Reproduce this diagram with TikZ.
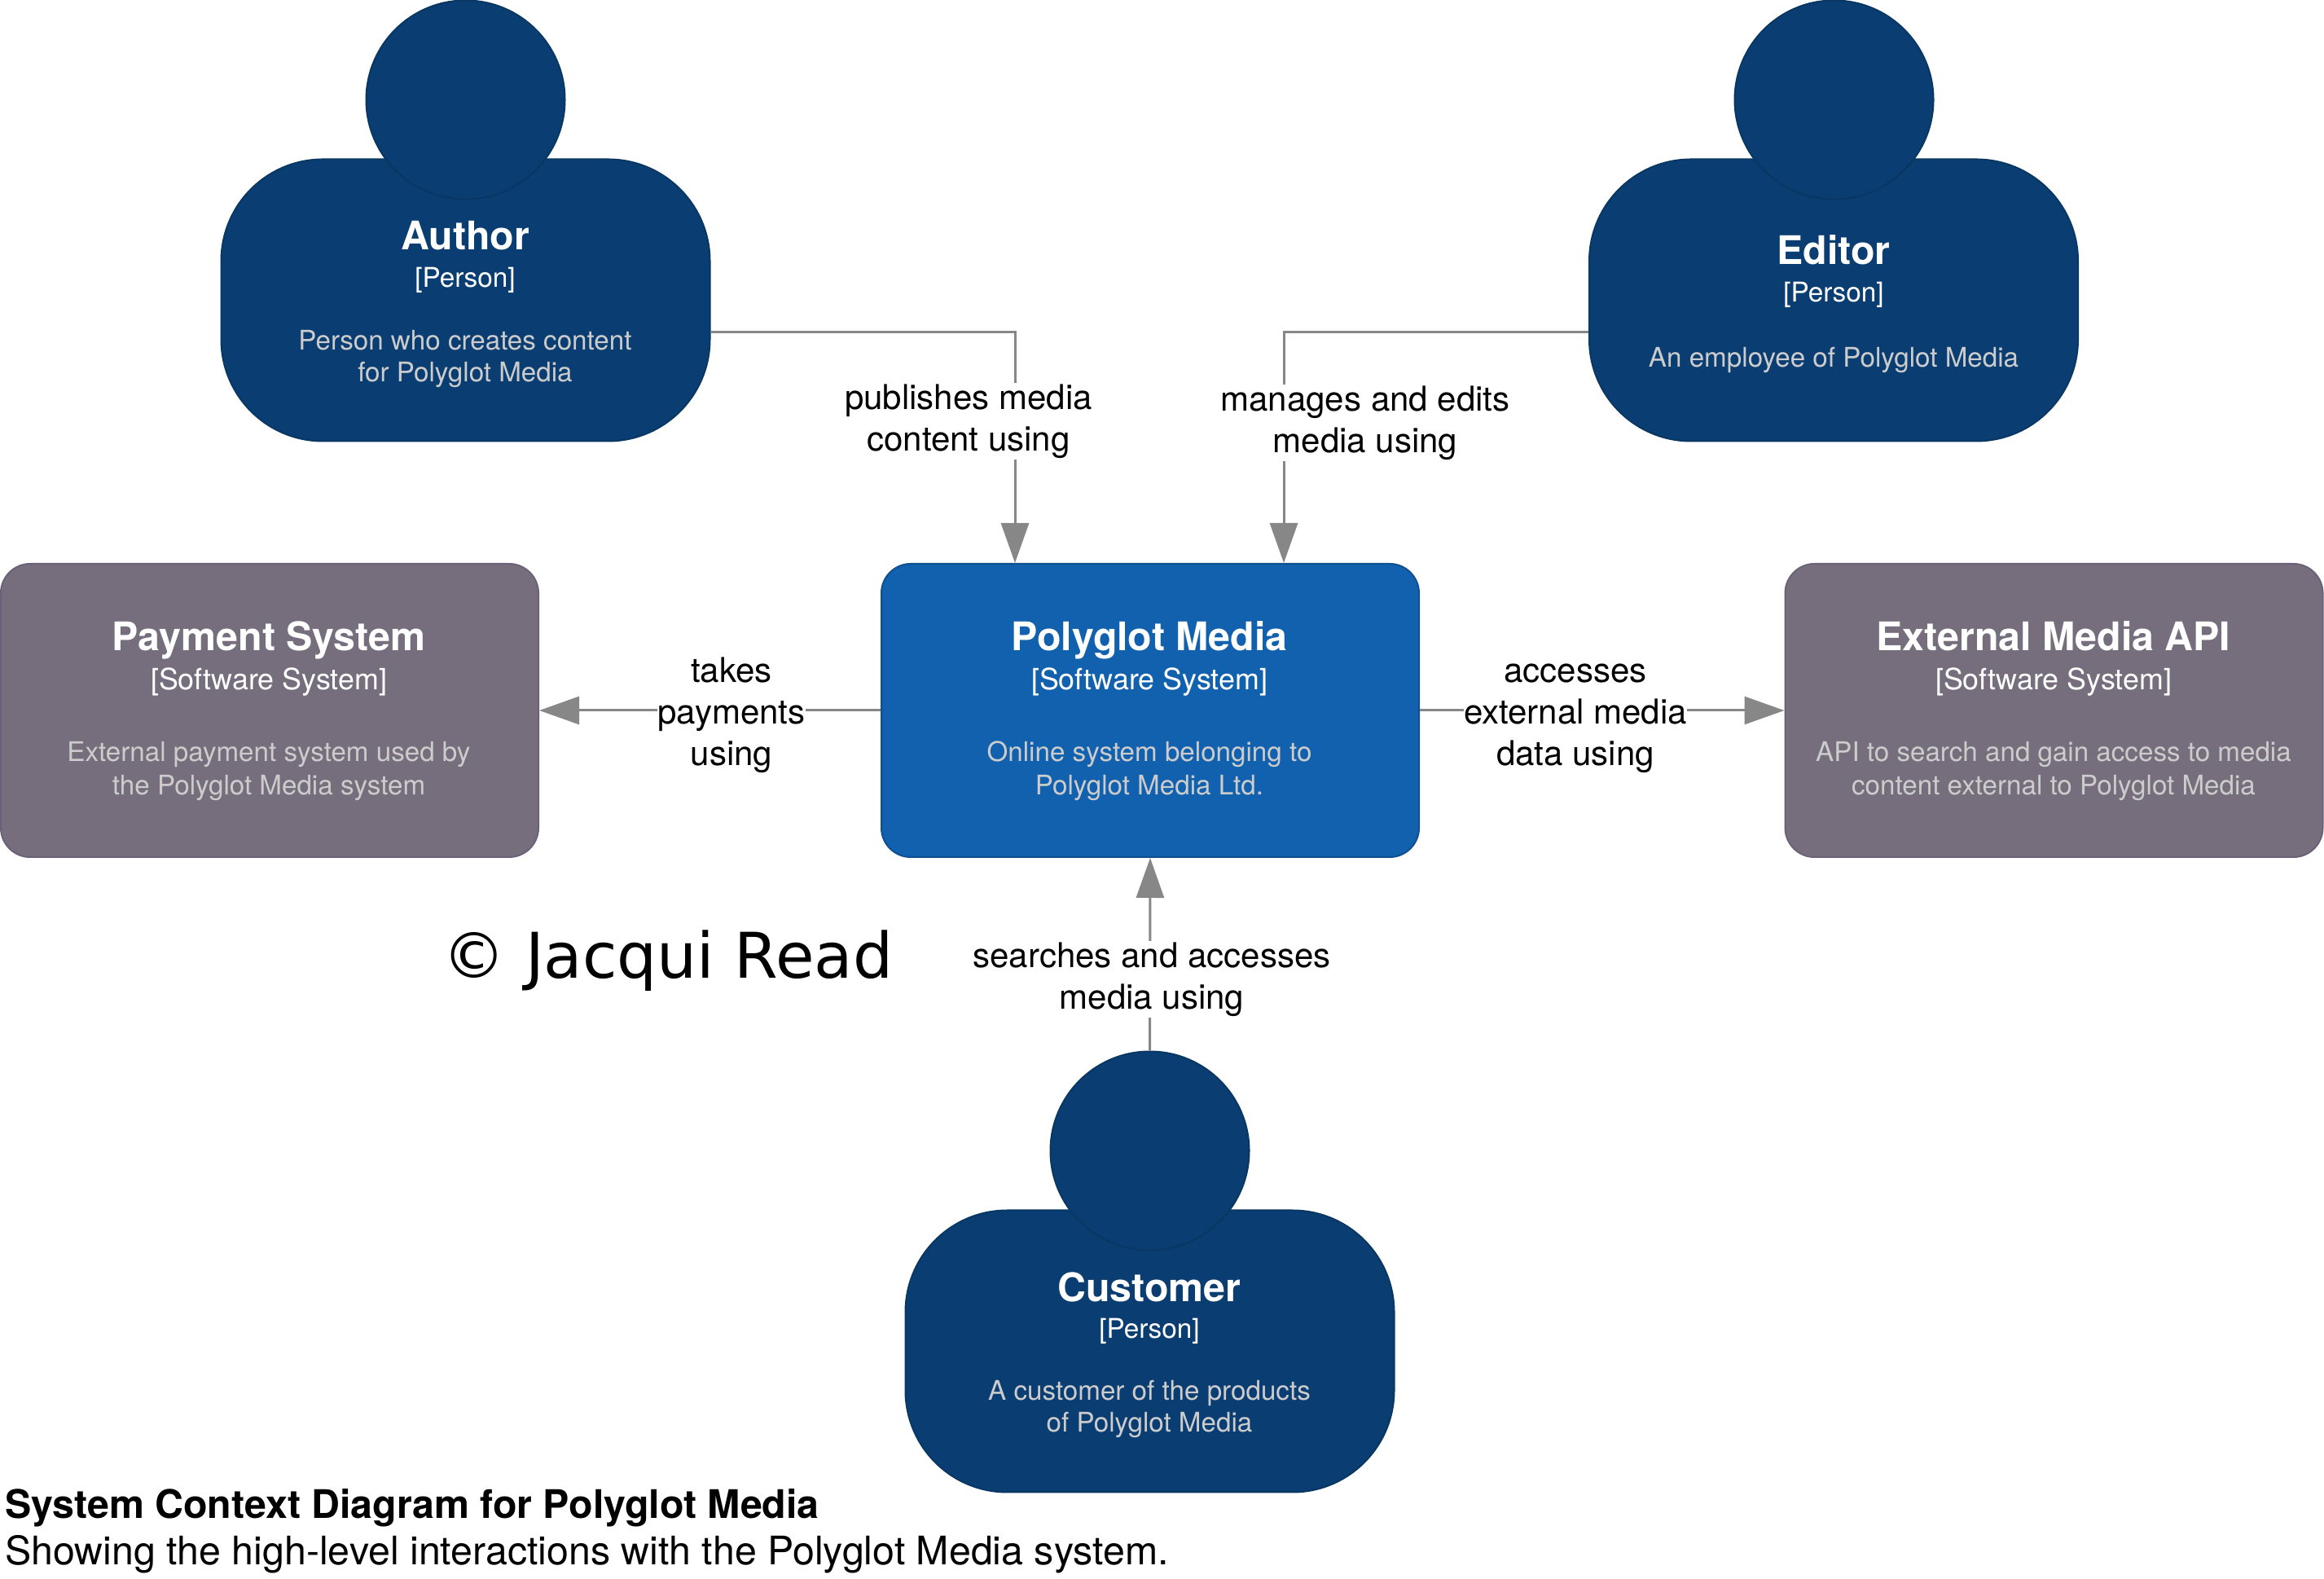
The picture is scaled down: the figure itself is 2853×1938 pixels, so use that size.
\documentclass[tikz,border=0pt]{standalone}
\usepackage{fontspec}
\setmainfont{TeX Gyre Heros}
\newfontfamily\copyfont{DejaVu Sans}
\usetikzlibrary{arrows.meta}

\definecolor{persondark}{HTML}{0A3E72}
\definecolor{personline}{HTML}{083763}
\definecolor{systemblue}{HTML}{1161AE}
\definecolor{systemline}{HTML}{0E5090}
\definecolor{extgrey}{HTML}{766E7D}
\definecolor{extline}{HTML}{6B6179}
\definecolor{linkgrey}{HTML}{878787}

\tikzset{
	personbody/.style={draw=personline,fill=persondark,line width=2bp,rounded corners=125bp,
		minimum width=600bp,minimum height=346bp,inner sep=0pt},
	personhead/.style={draw=personline,fill=persondark,line width=2bp,circle,
		minimum size=244bp,inner sep=0pt},
	mainbox/.style={draw=systemline,fill=systemblue,line width=2bp,rounded corners=36bp,
		minimum width=660bp,minimum height=360bp,inner sep=0pt},
	extbox/.style={mainbox,draw=extline,fill=extgrey},
	nametext/.style={anchor=base,inner sep=0pt,text=white,font=\fontsize{48.5}{52}\selectfont\bfseries},
	typetext/.style={anchor=base,inner sep=0pt,text=white,font=\fontsize{36}{40}\selectfont},
	persontype/.style={typetext,font=\fontsize{33.5}{40}\selectfont},
	desctext/.style={anchor=base,inner sep=0pt,text=black!20,align=center,font=\fontsize{33.3}{40}\selectfont},
	linktext/.style={fill=white,inner xsep=0pt,inner ysep=2bp,align=center,font=\fontsize{42.2}{51}\selectfont},
	link/.style={draw=linkgrey,line width=3bp,-{Triangle[length=49bp,width=34bp,fill=linkgrey]}},
}

\begin{document}
\begin{tikzpicture}

		\useasboundingbox (0bp,0bp) rectangle (2853bp,1938bp);

		% systems
		\node[mainbox] (polyglot) at (1412bp,1066bp) {};
		\node[extbox] (payment) at (331bp,1066bp) {};
		\node[extbox] (external) at (2521.5bp,1066bp) {};

		% people
		\node[personbody] (author) at (571.5bp,1569.5bp) {};
		\node[personhead] (authorhead) at (571.5bp,1815.5bp) {};
		\node[personbody] (editor) at (2251bp,1569.5bp) {};
		\node[personhead] (editorhead) at (2251.5bp,1815.5bp) {};
		\node[personbody] (customer) at (1411.5bp,279.5bp) {};
		\node[personhead] (customerhead) at (1411.5bp,525.5bp) {};

		% connectors
		\draw[link] ([yshift=-39bp]author.east) -| ([xshift=-166bp]polyglot.north);
		\draw[link] ([yshift=-39bp]editor.west) -| ([xshift=164bp]polyglot.north);
		\draw[link] (polyglot.west) -- (payment.east);
		\draw[link] (polyglot.east) -- (external.west);
		\draw[link] (customerhead.north) -- (polyglot.south);

		\node[linktext] (publishes) at (1189bp,1421bp) {publishes media\\content using};
		\node[linktext] (manages) at (1676bp,1419bp) {manages and edits\\media using};
		\node[linktext] (takes) at (898bp,1060bp) {takes\\payments\\using};
		\node[linktext] (accesses) at (1934bp,1056bp) {accesses\\external media\\data using};
		\node[linktext] (searches) at (1414bp,736bp) {searches and accesses\\media using};

		% texts
		\node[nametext] (authorname) at (571bp,1631bp) {Author};
		\node[persontype] (authortype) at (571bp,1585bp) {[Person]};
		\node[desctext] (authordesc) at (571bp,1469bp) {Person who creates content\\for Polyglot Media};

		\node[nametext] (editorname) at (2251bp,1613bp) {Editor};
		\node[persontype] (editortype) at (2251bp,1567bp) {[Person]};
		\node[desctext] (editordesc) at (2251bp,1487bp) {An employee of Polyglot Media};

		\node[nametext] (polyglotname) at (1411bp,1139bp) {Polyglot Media};
		\node[typetext] (polyglottype) at (1411bp,1091bp) {[Software System]};
		\node[desctext] (polyglotdesc) at (1411bp,962bp) {Online system belonging to\\[2bp]Polyglot Media Ltd.};

		\node[nametext] (paymentname) at (330bp,1139bp) {Payment System};
		\node[typetext] (paymenttype) at (330bp,1091bp) {[Software System]};
		\node[desctext] (paymentdesc) at (330bp,962bp) {External payment system used by\\[2bp]the Polyglot Media system};

		\node[nametext] (externalname) at (2521bp,1139bp) {External Media API};
		\node[typetext] (externaltype) at (2521bp,1091bp) {[Software System]};
		\node[desctext] (externaldesc) at (2521bp,962bp) {API to search and gain access to media\\[2bp]content external to Polyglot Media};

		\node[nametext] (customername) at (1411bp,340bp) {Customer};
		\node[persontype] (customertype) at (1411bp,295bp) {[Person]};
		\node[desctext] (customerdesc) at (1411bp,180bp) {A customer of the products\\of Polyglot Media};

		% notes
		\node[anchor=base west,inner sep=0pt,font=\fontsize{77.6}{80}\selectfont\copyfont] (copyright) at (543bp,737bp) {© Jacqui Read};
		\node[anchor=base west,inner sep=0pt,font=\fontsize{48.5}{52}\selectfont\bfseries] (captiontitle) at (6bp,74bp) {System Context Diagram for Polyglot Media};
		\node[anchor=base west,inner sep=0pt,font=\fontsize{48.5}{52}\selectfont] (captiontext) at (6bp,18bp) {Showing the high-level interactions with the Polyglot Media system.};

	\end{tikzpicture}
\end{document}
